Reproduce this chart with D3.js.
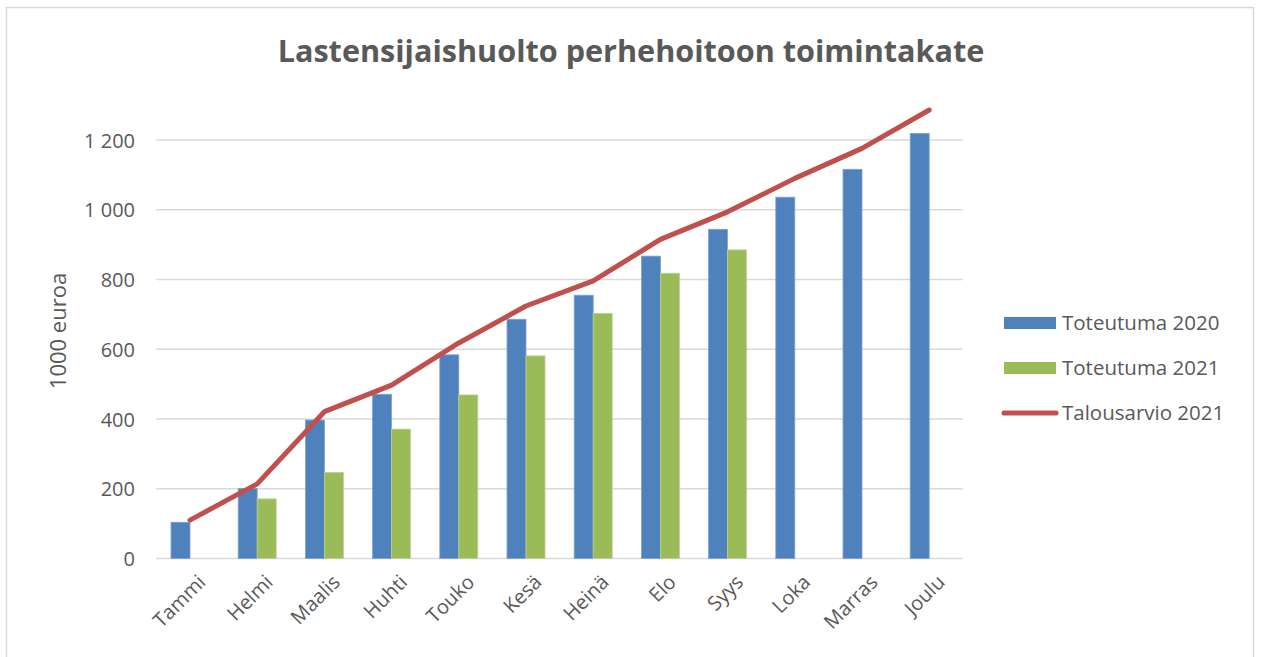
<!DOCTYPE html>
<html>
<head>
<meta charset="utf-8">
<script src="https://cdn.jsdelivr.net/npm/d3@7"></script>
<style>
  body { margin: 0; background: #fff; }
  svg { display: block; font-family: "Open Sans", "Noto Sans", sans-serif; }
</style>
</head>
<body>
<div id="container"></div>
<script>
var width = 1262;
var height = 657;

// data
var months = ["Tammi", "Helmi", "Maalis", "Huhti", "Touko", "Kesä", "Heinä", "Elo", "Syys", "Loka", "Marras", "Joulu"];
var toteutuma2020 = [104, 201, 397, 471, 584, 686, 755, 867, 944, 1036, 1116, 1219];
var toteutuma2021 = [null, 171, 247, 371, 469, 581, 703, 818, 885, null, null, null];
var talousarvio2021 = [110, 214, 421, 497, 618, 724, 796, 915, 994, 1090, 1176, 1286];
var yTicks = [0, 200, 400, 600, 800, 1000, 1200];
var seriesNames = ["Toteutuma 2020", "Toteutuma 2021", "Talousarvio 2021"];
var colors = ["#4F81BD", "#9BBB59", "#C0504D"];

var plot = { left: 156.4, right: 962.8, top: 140, bottom: 558.5 };
var textColor = "#595959";

var svg = d3.select("#container").append("svg")
    .attr("width", width)
    .attr("height", height);

// chart frame
svg.append("rect")
    .attr("x", 6.5).attr("y", 7.5)
    .attr("width", 1247).attr("height", 700)
    .attr("fill", "#fff")
    .attr("stroke", "#D9D9D9")
    .attr("stroke-width", 1.5);

var x = d3.scaleBand().domain(months).range([plot.left, plot.right]).paddingInner(0).paddingOuter(0);
var y = d3.scaleLinear().domain([0, 1200]).range([plot.bottom, plot.top]);
var barW = 19;

// gridlines
svg.append("g").selectAll("line").data(yTicks).enter().append("line")
    .attr("x1", plot.left).attr("x2", plot.right)
    .attr("y1", function(d) { return y(d); })
    .attr("y2", function(d) { return y(d); })
    .attr("stroke", "#D9D9D9")
    .attr("stroke-width", 1.5);

// y axis labels
var yAxis = d3.axisLeft(y).tickValues(yTicks).tickSize(0).tickPadding(0)
    .tickFormat(function(d) { return d3.format(",")(d).replace(",", " "); });
var ya = svg.append("g").attr("transform", "translate(135,0)").call(yAxis);
ya.select(".domain").remove();
ya.selectAll("text")
    .attr("font-family", "'Open Sans', sans-serif")
    .attr("font-size", 20)
    .attr("fill", textColor)
    .attr("dy", "0.35em");

svg.append("text")
    .attr("transform", "translate(66,331) rotate(-90)")
    .attr("text-anchor", "middle")
    .attr("font-size", 22)
    .attr("fill", textColor)
    .text("1000 euroa");

// bars
var g2020 = svg.append("g");
g2020.selectAll("rect").data(toteutuma2020).enter().append("rect")
    .attr("x", function(d, i) { return x(months[i]) + x.bandwidth() / 2 - barW; })
    .attr("y", function(d) { return y(d); })
    .attr("width", barW)
    .attr("height", function(d) { return y(0) - y(d); })
    .attr("fill", colors[0])
    .attr("stroke", "#7FA3D3")
    .attr("stroke-width", 0.8);

var g2021 = svg.append("g");
g2021.selectAll("rect").data(toteutuma2021.map(function(v, i) { return { v: v, i: i }; })
        .filter(function(d) { return d.v != null; }))
    .enter().append("rect")
    .attr("x", function(d) { return x(months[d.i]) + x.bandwidth() / 2; })
    .attr("y", function(d) { return y(d.v); })
    .attr("width", barW)
    .attr("height", function(d) { return y(0) - y(d.v); })
    .attr("fill", colors[1])
    .attr("stroke", "#BCD38F")
    .attr("stroke-width", 0.8);

// budget line
var line = d3.line()
    .x(function(d, i) { return x(months[i]) + x.bandwidth() / 2; })
    .y(function(d) { return y(d); });
svg.append("path")
    .datum(talousarvio2021)
    .attr("d", line)
    .attr("fill", "none")
    .attr("stroke", colors[2])
    .attr("stroke-width", 5)
    .attr("stroke-linecap", "round")
    .attr("stroke-linejoin", "round");

// x labels, rotated
var xa = svg.append("g").attr("transform", "translate(0," + (plot.bottom + 15) + ")")
    .call(d3.axisBottom(x).tickSize(0).tickPadding(0));
xa.select(".domain").remove();
xa.selectAll("text")
    .attr("font-family", "'Open Sans', sans-serif")
    .attr("font-size", 20)
    .attr("fill", textColor)
    .attr("text-anchor", "end")
    .attr("dy", "0.7em")
    .attr("transform", "translate(7,0) rotate(-45)");

// title, fitted to the width seen in the picture
var title = svg.append("text")
    .attr("x", 631).attr("y", 62)
    .attr("text-anchor", "middle")
    .attr("font-weight", "bold")
    .attr("font-size", 30)
    .attr("fill", textColor)
    .text("Lastensijaishuolto perhehoitoon toimintakate");
var tw = title.node().getComputedTextLength();
title.attr("font-size", 30 * 707 / tw);

// legend
var legendY = [323, 368, 413];
var lg = svg.append("g");
seriesNames.forEach(function(name, i) {
    if (i < 2) {
        lg.append("rect")
            .attr("x", 1004).attr("y", legendY[i] - 6)
            .attr("width", 52).attr("height", 12)
            .attr("fill", colors[i]);
    } else {
        lg.append("line")
            .attr("x1", 1004).attr("x2", 1056)
            .attr("y1", legendY[i]).attr("y2", legendY[i])
            .attr("stroke", colors[i])
            .attr("stroke-width", 5)
            .attr("stroke-linecap", "round");
    }
    lg.append("text")
        .attr("x", 1062).attr("y", legendY[i])
        .attr("dy", "0.35em")
        .attr("font-size", 20.5)
        .attr("fill", textColor)
        .text(name);
});
</script>
</body>
</html>
